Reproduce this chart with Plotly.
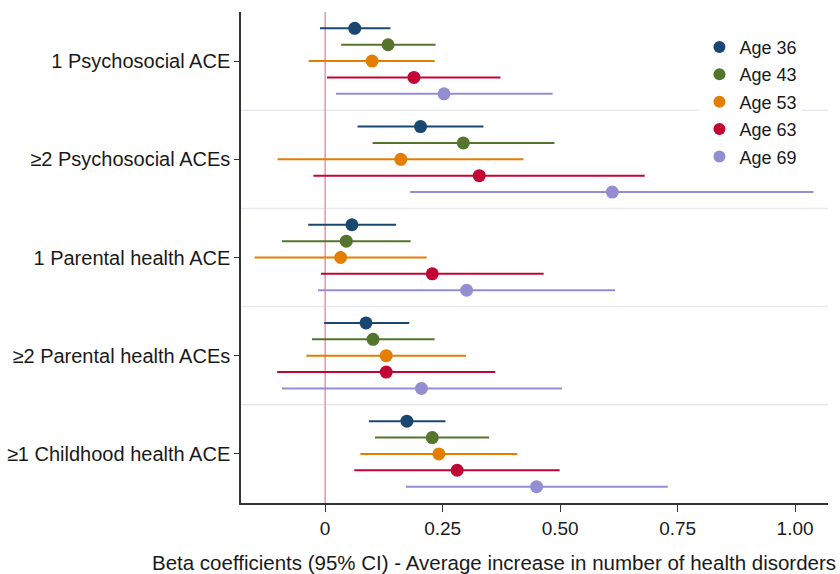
import plotly.graph_objects as go

categories = ["1 Psychosocial ACE", "≥2 Psychosocial ACEs", "1 Parental health ACE",
              "≥2 Parental health ACEs", "≥1 Childhood health ACE"]
ages = ["Age 36", "Age 43", "Age 53", "Age 63", "Age 69"]
colors = ["#1a476f", "#55752f", "#e37e00", "#c10534", "#938dd2"]

# beta estimates per age (one value per category)
beta_36 = [0.063, 0.203, 0.057, 0.087, 0.174]
beta_43 = [0.134, 0.294, 0.045, 0.102, 0.228]
beta_53 = [0.100, 0.161, 0.033, 0.130, 0.242]
beta_63 = [0.189, 0.328, 0.228, 0.130, 0.281]
beta_69 = [0.253, 0.611, 0.301, 0.205, 0.450]

lo_36 = [-0.011, 0.069, -0.036, -0.002, 0.093]
lo_43 = [0.034, 0.101, -0.092, -0.028, 0.106]
lo_53 = [-0.035, -0.101, -0.150, -0.040, 0.075]
lo_63 = [0.004, -0.025, -0.009, -0.102, 0.062]
lo_69 = [0.023, 0.181, -0.015, -0.092, 0.172]

hi_36 = [0.139, 0.337, 0.151, 0.179, 0.256]
hi_43 = [0.235, 0.488, 0.182, 0.233, 0.349]
hi_53 = [0.233, 0.422, 0.216, 0.300, 0.409]
hi_63 = [0.373, 0.680, 0.465, 0.362, 0.499]
hi_69 = [0.484, 1.039, 0.617, 0.504, 0.729]

x_ticks = [0, 0.25, 0.5, 0.75, 1.0]
x_ticktext = ["0", "0.25", "0.50", "0.75", "1.00"]
x_title = "Beta coefficients (95% CI) - Average increase in number of health disorders"

betas = [beta_36, beta_43, beta_53, beta_63, beta_69]
los = [lo_36, lo_43, lo_53, lo_63, lo_69]
his = [hi_36, hi_43, hi_53, hi_63, hi_69]

GROUP = 6  # slots per category (5 ages + gap)
n_age = len(ages)
n_cat = len(categories)

fig = go.Figure()
for k, (age, col) in enumerate(zip(ages, colors)):
    ys = [g * GROUP + k for g in range(n_cat)]
    b = betas[k]
    fig.add_trace(go.Scatter(
        x=b, y=ys, mode="markers", name=age, legendgroup=age,
        marker=dict(color=col, size=13, line=dict(width=0)),
        error_x=dict(type="data", symmetric=False,
                     array=[h - v for h, v in zip(his[k], b)],
                     arrayminus=[v - l for v, l in zip(b, los[k])],
                     color=col, thickness=2, width=0),
    ))

# category separators (midway between groups)
for g in range(1, n_cat):
    yy = g * GROUP - (GROUP - n_age + 1) / 2
    fig.add_shape(type="line", xref="paper", x0=0, x1=1, yref="y", y0=yy, y1=yy,
                  line=dict(color="#e8eaf0", width=1.5), layer="below")

# reference line at zero
fig.add_shape(type="line", xref="x", x0=0, x1=0, yref="paper", y0=0, y1=1,
              line=dict(color="#e6849a", width=1.3), layer="below")

centers = [g * GROUP + (n_age - 1) / 2 for g in range(n_cat)]

font_family = "Liberation Sans, Arial, sans-serif"
fig.update_layout(
    width=840, height=574,
    margin=dict(l=241, r=12, t=12, b=71, autoexpand=False),
    plot_bgcolor="white", paper_bgcolor="white",
    font=dict(family=font_family, size=19, color="#1a1a1a"),
    showlegend=True,
    legend=dict(x=0.781, y=0.966, xanchor="left", yanchor="top",
                bgcolor="rgba(255,255,255,1)", font=dict(size=18, color="#1a1a1a"),
                itemsizing="constant", tracegroupgap=1),
    xaxis=dict(range=[-0.179, 1.070], tickvals=x_ticks, ticktext=x_ticktext,
               showgrid=False, zeroline=False, showline=True, linecolor="#333",
               linewidth=1.5, ticks="outside", ticklen=7, tickcolor="#333",
               tickfont=dict(size=19), automargin=False),
    yaxis=dict(range=[(n_cat - 1) * GROUP + n_age, -1], tickvals=centers, ticktext=categories,
               showgrid=False, zeroline=False, showline=True, linecolor="#333",
               linewidth=1.5, ticks="outside", ticklen=5, tickcolor="#333",
               tickfont=dict(size=20), automargin=False),
    annotations=[dict(text=x_title,
                      xref="paper", yref="paper", x=0.431, y=-0.122, xanchor="center",
                      yanchor="middle", showarrow=False, font=dict(size=20.5, color="#1a1a1a"))],
)

fig.write_html("out.html", config={"displayModeBar": False},
               post_script="document.body.style.margin='0px';document.body.style.overflow='hidden';")
